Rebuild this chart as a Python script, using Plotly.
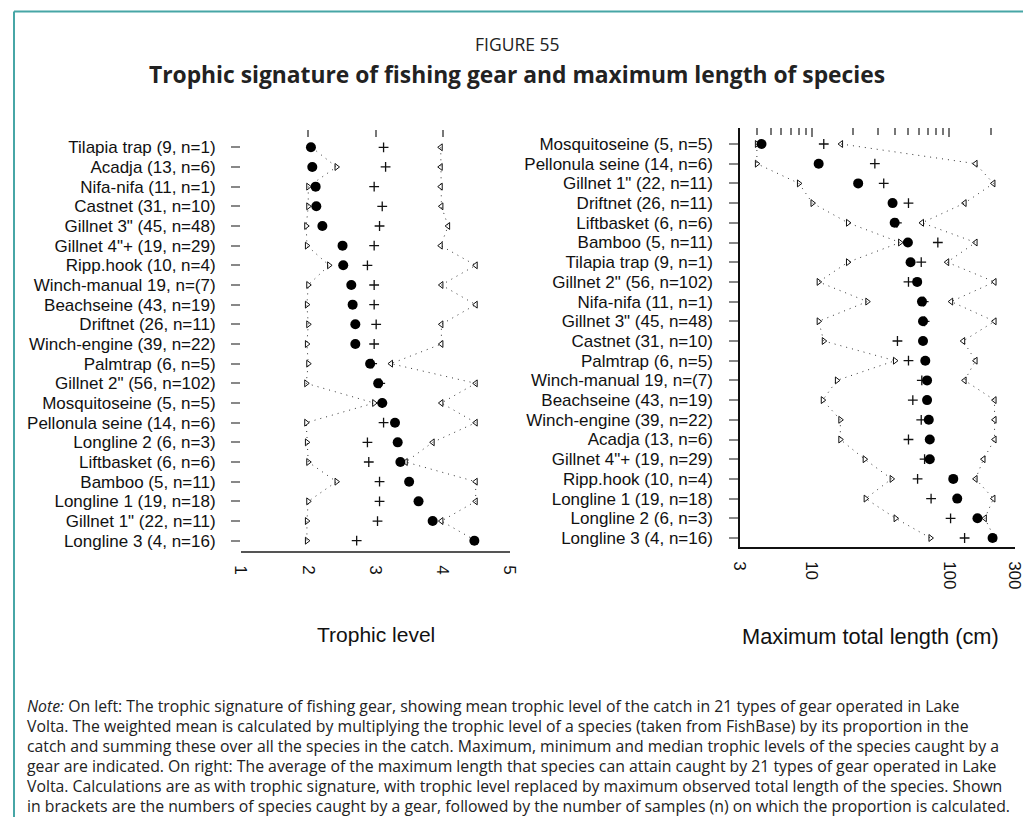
import math
import plotly.graph_objects as go

# ---------------- data ----------------
gears_left = ["Tilapia trap (9, n=1)", "Acadja (13, n=6)", "Nifa-nifa (11, n=1)", "Castnet (31, n=10)",
              'Gillnet 3" (45, n=48)', 'Gillnet 4"+ (19, n=29)', "Ripp.hook (10, n=4)", "Winch-manual 19, n=(7)",
              "Beachseine (43, n=19)", "Driftnet (26, n=11)", "Winch-engine (39, n=22)", "Palmtrap (6, n=5)",
              'Gillnet 2" (56, n=102)', "Mosquitoseine (5, n=5)", "Pellonula seine (14, n=6)", "Longline 2 (6, n=3)",
              "Liftbasket (6, n=6)", "Bamboo (5, n=11)", "Longline 1 (19, n=18)", 'Gillnet 1" (22, n=11)',
              "Longline 3 (4, n=16)"]
tl_mean = [2.04, 2.06, 2.11, 2.12, 2.21, 2.51, 2.52, 2.64, 2.66, 2.70, 2.70, 2.92, 3.04, 3.10, 3.29, 3.33,
           3.37, 3.50, 3.64, 3.85, 4.47]
tl_median = [3.12, 3.15, 2.98, 3.10, 3.06, 2.98, 2.88, 2.98, 2.98, 3.01, 2.98, 2.95, 3.07, 3.10, 3.12, 2.88,
             2.90, 3.06, 3.06, 3.03, 2.72]
tl_min = [2.05, 2.42, 2.00, 2.00, 1.97, 1.98, 2.31, 2.00, 1.98, 2.00, 1.98, 2.00, 1.97, 2.98, 1.97, 1.98,
          2.00, 2.42, 2.00, 1.98, 1.98]
tl_max = [3.97, 3.97, 3.97, 3.98, 4.08, 3.97, 4.49, 3.98, 4.49, 3.98, 3.98, 3.23, 4.49, 3.98, 4.49, 3.85,
          3.45, 4.49, 4.49, 3.98, 4.49]

gears_right = ["Mosquitoseine (5, n=5)", "Pellonula seine (14, n=6)", 'Gillnet 1" (22, n=11)', "Driftnet (26, n=11)",
               "Liftbasket (6, n=6)", "Bamboo (5, n=11)", "Tilapia trap (9, n=1)", 'Gillnet 2" (56, n=102)',
               "Nifa-nifa (11, n=1)", 'Gillnet 3" (45, n=48)', "Castnet (31, n=10)", "Palmtrap (6, n=5)",
               "Winch-manual 19, n=(7)", "Beachseine (43, n=19)", "Winch-engine (39, n=22)", "Acadja (13, n=6)",
               'Gillnet 4"+ (19, n=29)', "Ripp.hook (10, n=4)", "Longline 1 (19, n=18)", "Longline 2 (6, n=3)",
               "Longline 3 (4, n=16)"]
len_mean = [4.3, 11.2, 21.7, 38.6, 40.0, 49.9, 52.2, 58.3, 63.2, 64.3, 64.3, 66.8, 68.8, 68.8, 70.8, 72.0,
            72.0, 106.7, 114, 160, 206]
len_median = [12.2, 28.7, 33.3, 50.4, 41.5, 82.4, 62.4, 50.4, 65, 66, 41.9, 50.4, 63, 54.2, 62.4, 50.4,
              66, 58.7, 73.6, 102, 129]
len_min = [3.98, 3.98, 8.05, 10.1, 18.3, 43.8, 18.3, 11.2, 25.3, 11.2, 12.2, 40.2, 15.2, 12.0, 16.1, 16.1,
           24.2, 38.0, 24.6, 40.6, 72.8]
len_max = [16.3, 155, 209, 129, 63.2, 155, 96.4, 213, 103, 213, 126, 155, 129, 213, 213, 213,
           177, 155, 209, 181, 213]

left_ticks = [1, 2, 3, 4, 5]
right_ticks = [3, 10, 100, 300]
right_minor = [4, 5, 6, 7, 8, 9, 20, 30, 40, 50, 60, 70, 80, 90, 200, 300]
right_major = [10, 100]

title1 = "FIGURE 55"
title2 = "Trophic signature of fishing gear and maximum length of species"
xtitle_left = "Trophic level"
xtitle_right = "Maximum total length (cm)"
note_lines = [
    "<i>Note:</i> On left: The trophic signature of fishing gear, showing mean trophic level of the catch in 21 types of gear operated in Lake",
    "Volta. The weighted mean is calculated by multiplying the trophic level of a species (taken from FishBase) by its proportion in the",
    "catch and summing these over all the species in the catch. Maximum, minimum and median trophic levels of the species caught by a",
    "gear are indicated. On right: The average of the maximum length that species can attain caught by 21 types of gear operated in Lake",
    "Volta. Calculations are as with trophic signature, with trophic level replaced by maximum observed total length of the species. Shown",
    "in brackets are the numbers of species caught by a gear, followed by the number of samples (n) on which the proportion is calculated.",
]

# ---------------- layout helpers (page pixels -> paper, page body has 8px margin) ----------------
OFF = 8
W, H = 1031 - OFF, 817 - OFF
def fx(px):
    return (px - OFF) / W
def fy(px):
    return 1 - (px - OFF) / H

LABEL_FONT = dict(family="Liberation Sans, Arial", size=17, color="#111")
NOTE_FONT = "Open Sans, sans-serif"

fig = go.Figure()

def add_panel(xs_min, xs_max, xs_med, xs_mean, xa, ya):
    idx = list(range(1, len(xs_mean) + 1))
    dot = dict(color="#333", width=1, dash="1px,5px")
    fig.add_trace(go.Scatter(x=xs_min, y=idx, mode="lines+markers", xaxis=xa, yaxis=ya,
                             line=dot, marker=dict(symbol="triangle-right-open", size=6, color="#111",
                                                   line=dict(width=1, color="#111")),
                             showlegend=False, hoverinfo="skip"))
    fig.add_trace(go.Scatter(x=xs_max, y=idx, mode="lines+markers", xaxis=xa, yaxis=ya,
                             line=dot, marker=dict(symbol="triangle-left-open", size=6, color="#111",
                                                   line=dict(width=1, color="#111")),
                             showlegend=False, hoverinfo="skip"))
    fig.add_trace(go.Scatter(x=xs_med, y=idx, mode="markers", xaxis=xa, yaxis=ya,
                             marker=dict(symbol="cross-thin", size=7, color="#111",
                                         line=dict(width=1.3, color="#111")),
                             showlegend=False, hoverinfo="skip"))
    fig.add_trace(go.Scatter(x=xs_mean, y=idx, mode="markers", xaxis=xa, yaxis=ya,
                             marker=dict(symbol="circle", size=10, color="#000"),
                             showlegend=False, hoverinfo="skip"))

add_panel(tl_min, tl_max, tl_median, tl_mean, "x", "y")
add_panel(len_min, len_max, len_median, len_mean, "x2", "y2")
# invisible traces so the top tick axes get drawn
for xa, ya, xv in [("x3", "y", 3), ("x4", "y2", 10), ("x5", "y2", 10)]:
    fig.add_trace(go.Scatter(x=[xv], y=[1], xaxis=xa, yaxis=ya, mode="markers", marker=dict(opacity=0),
                             showlegend=False, hoverinfo="skip"))

# pixel geometry (page pixels)
L_x0, L_x1 = 241, 510
L_top, L_bot = 130, 551
R_x0, R_x1 = 740, 1015
R_top, R_bot = 128, 547
L_row1, L_step = 147.3, 19.67
R_row1, R_step = 144.0, 19.7
l_rng = [21 + (L_bot - (L_row1 + 20 * L_step)) / L_step, 1 - (L_row1 - L_top) / L_step]
r_rng = [21 + (R_bot - (R_row1 + 20 * R_step)) / R_step, 1 - (R_row1 - R_top) / R_step]
log_rng = [math.log10(3), math.log10(300)]

top_common = dict(showticklabels=False, ticks="inside", tickwidth=1.5, tickcolor="#777",
                  showline=False, showgrid=False, zeroline=False, automargin=False, side="top")

fig.update_layout(
    width=W, height=H, margin=dict(l=0, r=0, t=0, b=0),
    paper_bgcolor="white", plot_bgcolor="white",
    xaxis=dict(domain=[fx(L_x0), fx(L_x1)], range=[1, 5], anchor="y",
               tickvals=left_ticks, ticktext=[str(v) for v in left_ticks], tickangle=90,
               ticks="", showline=True, linecolor="#555", linewidth=1.5, showgrid=False, zeroline=False,
               tickfont=dict(family="Liberation Sans, Arial", size=17, color="#111"),
               ticklabelstandoff=9, automargin=False),
    yaxis=dict(domain=[fy(L_bot), fy(L_top)], range=l_rng, anchor="x",
               tickvals=list(range(1, 22)), ticktext=gears_left, ticks="outside", ticklen=9,
               tickwidth=1.5, tickcolor="#888", showline=False, showgrid=False, zeroline=False,
               tickfont=LABEL_FONT, ticklabelstandoff=12, automargin=False),
    xaxis3=dict(overlaying="x", anchor="y", range=[1, 5], tickvals=left_ticks, ticklen=7, **top_common),
    xaxis2=dict(domain=[fx(R_x0), fx(R_x1)], type="log", range=log_rng, anchor="y2",
                tickvals=right_ticks, ticktext=[str(v) for v in right_ticks], tickangle=90,
                ticks="", showline=True, linecolor="#111", linewidth=1.5, showgrid=False, zeroline=False,
                tickfont=dict(family="Liberation Sans, Arial", size=17, color="#111"),
                ticklabelstandoff=9, automargin=False),
    yaxis2=dict(domain=[fy(R_bot), fy(R_top)], range=r_rng, anchor="x2",
                tickvals=list(range(1, 22)), ticktext=gears_right, ticks="outside", ticklen=9,
                tickwidth=1.5, tickcolor="#888", showline=True, linecolor="#111", linewidth=1.5,
                showgrid=False, zeroline=False, tickfont=LABEL_FONT, ticklabelstandoff=13, automargin=False),
    xaxis4=dict(overlaying="x2", anchor="y2", type="log", range=log_rng, tickvals=right_minor,
                ticklen=7, **top_common),
    xaxis5=dict(overlaying="x2", anchor="y2", type="log", range=log_rng, tickvals=right_major,
                ticklen=9, **top_common),
)

# frame
teal = "#47a6a6"
fig.add_shape(type="line", xref="paper", yref="paper", x0=fx(14), x1=1, y0=fy(11.5), y1=fy(11.5),
              line=dict(color=teal, width=2))
fig.add_shape(type="line", xref="paper", yref="paper", x0=fx(14), x1=fx(14), y0=fy(11.5), y1=0,
              line=dict(color=teal, width=2))

ann = []
ann.append(dict(text=title1, x=fx(517), y=fy(44), xref="paper", yref="paper", showarrow=False,
                xanchor="center", yanchor="middle",
                font=dict(family=NOTE_FONT, size=17.5, color="#222")))
ann.append(dict(text="<b>" + title2 + "</b>", x=fx(517), y=fy(74), xref="paper", yref="paper", showarrow=False,
                xanchor="center", yanchor="middle",
                font=dict(family=NOTE_FONT, size=22.8, color="#222")))
ann.append(dict(text=xtitle_left, x=fx(376), y=fy(634), xref="paper", yref="paper", showarrow=False,
                xanchor="center", yanchor="middle",
                font=dict(family="Liberation Sans, Arial", size=21, color="#111")))
ann.append(dict(text=xtitle_right, x=fx(870), y=fy(636), xref="paper", yref="paper", showarrow=False,
                xanchor="center", yanchor="middle",
                font=dict(family="Liberation Sans, Arial", size=21.8, color="#111")))
for i, line in enumerate(note_lines):
    ann.append(dict(text=line, x=fx(25), y=fy(706 + i * 20), xref="paper", yref="paper", showarrow=False,
                    xanchor="left", yanchor="middle",
                    font=dict(family=NOTE_FONT, size=15.8, color="#222")))
fig.update_layout(annotations=ann)

fig.write_html("out.html")
